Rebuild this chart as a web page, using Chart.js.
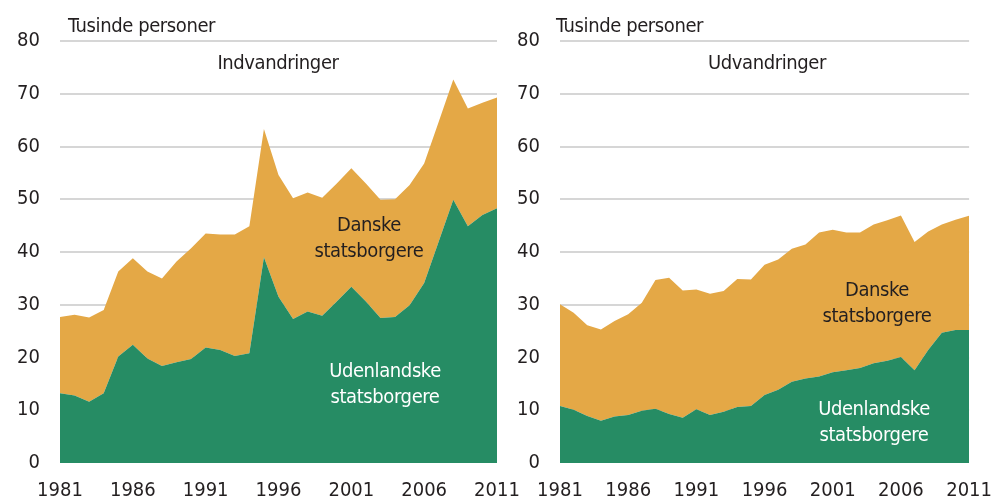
<!DOCTYPE html>
<html>
<head>
<meta charset="utf-8">
<script src="https://cdn.jsdelivr.net/npm/chart.js@4.4.1/dist/chart.umd.min.js"></script>
<style>
  html, body { margin:0; padding:0; width:1008px; height:499px; overflow:hidden; background:#fff; }
  body { position:relative; font-family:"Liberation Sans Narrow","DejaVu Sans Condensed","Open Sans",sans-serif; color:#231f20; }
  canvas { position:absolute; top:0; }
  .t { position:absolute; white-space:nowrap; font-size:20px; line-height:26px; text-align:center; z-index:5; letter-spacing:-0.4px; }
  .w { color:#ffffff; }
</style>
</head>
<body>
<canvas id="c1" style="left:0px;width:540px;height:520px" width="540" height="520"></canvas>
<canvas id="c2" style="left:504px;width:504px;height:520px" width="504" height="520"></canvas>

<div class="t" style="left:68px;top:12px;text-align:left">Tusinde personer</div>
<div class="t" style="left:556px;top:12px;text-align:left">Tusinde personer</div>
<div class="t" style="left:178px;top:49px;width:200px">Indvandringer</div>
<div class="t" style="left:667px;top:49px;width:200px">Udvandringer</div>
<div class="t" style="left:269px;top:211px;width:200px">Danske<br>statsborgere</div>
<div class="t w" style="left:285px;top:357px;width:200px">Udenlandske<br>statsborgere</div>
<div class="t" style="left:777px;top:276px;width:200px">Danske<br>statsborgere</div>
<div class="t w" style="left:774px;top:395px;width:200px">Udenlandske<br>statsborgere</div>

<script>
const years = ['1981','1982','1983','1984','1985','1986','1987','1988','1989','1990',
  '1991','1992','1993','1994','1995','1996','1997','1998','1999','2000',
  '2001','2002','2003','2004','2005','2006','2007','2008','2009','2010','2011'];
const tickYears = ['1981','1986','1991','1996','2001','2006','2011'];
const yTicks = [0,10,20,30,40,50,60,70,80];

// Indvandringer (immigration), thousands
const immForeign = [13.2,12.8,11.6,13.2,20.2,22.4,19.8,18.4,19.1,19.7,
  21.9,21.4,20.3,20.8,39.0,31.5,27.3,28.7,27.9,30.6,
  33.4,30.6,27.5,27.7,29.9,34.1,42.0,49.9,44.9,47.0,48.3];
const immDanish = [14.5,15.3,16.0,15.8,16.1,16.4,16.5,16.6,19.1,21.0,
  21.6,21.9,23.0,24.1,24.3,23.1,22.9,22.6,22.4,22.4,
  22.5,22.4,22.4,22.3,22.8,22.7,22.7,22.8,22.3,21.3,21.0];

// Udvandringer (emigration), thousands
const emiForeign = [10.8,10.1,8.9,8.0,8.8,9.1,9.9,10.3,9.3,8.6,
  10.2,9.1,9.7,10.6,10.8,12.9,13.9,15.4,16.0,16.4,
  17.2,17.6,18.0,18.9,19.4,20.1,17.6,21.4,24.7,25.2,25.2];
const emiDanish = [19.3,18.4,17.2,17.3,18.1,19.1,20.5,24.4,25.8,24.1,
  22.7,23.0,22.9,24.3,24.0,24.7,24.7,25.2,25.4,27.3,
  27.0,26.1,25.7,26.3,26.6,26.8,24.3,22.5,20.5,20.9,21.7];

const GREEN = '#268c64';
const ORANGE = '#e4a846';
const FONT = {family:'"Liberation Sans Narrow","DejaVu Sans Condensed","Open Sans",sans-serif', size:20};

function makeChart(id, foreign, danish, yWidth, padRight){
  return new Chart(document.getElementById(id), {
    type:'line',
    data:{
      labels: years,
      datasets:[
        {label:'Udenlandske statsborgere', data:foreign, backgroundColor:GREEN, borderWidth:0, pointRadius:0, fill:'origin', tension:0},
        {label:'Danske statsborgere', data:danish, backgroundColor:ORANGE, borderWidth:0, pointRadius:0, fill:'-1', tension:0}
      ]
    },
    options:{
      responsive:false, animation:false,
      layout:{padding:{top:41, right:padRight, left:0, bottom:0}},
      plugins:{legend:{display:false}, tooltip:{enabled:false}},
      scales:{
        x:{
          type:'category', offset:false,
          grid:{display:false, drawTicks:false},
          border:{display:false},
          ticks:{
            autoSkip:false, maxRotation:0, padding:16, color:'#231f20', font:FONT,
            callback:function(v){ const l=this.getLabelForValue(v); return tickYears.includes(l)?l:null; }
          },
          afterFit:function(s){ s.height = 57; }
        },
        y:{
          stacked:true, min:0, max:80,
          grid:{color:function(ctx){ return ctx.tick.value===0 ? 'rgba(0,0,0,0)' : '#d6d6d6'; }, lineWidth:2, drawTicks:false},
          border:{display:false},
          afterBuildTicks:function(s){ s.ticks = yTicks.map(v=>({value:v})); },
          ticks:{padding:20, color:'#231f20', font:FONT},
          afterFit:function(s){ s.width = yWidth; }
        }
      }
    }
  });
}
makeChart('c1', immForeign, immDanish, 60, 43);
makeChart('c2', emiForeign, emiDanish, 56, 21);
</script>
</body>
</html>
